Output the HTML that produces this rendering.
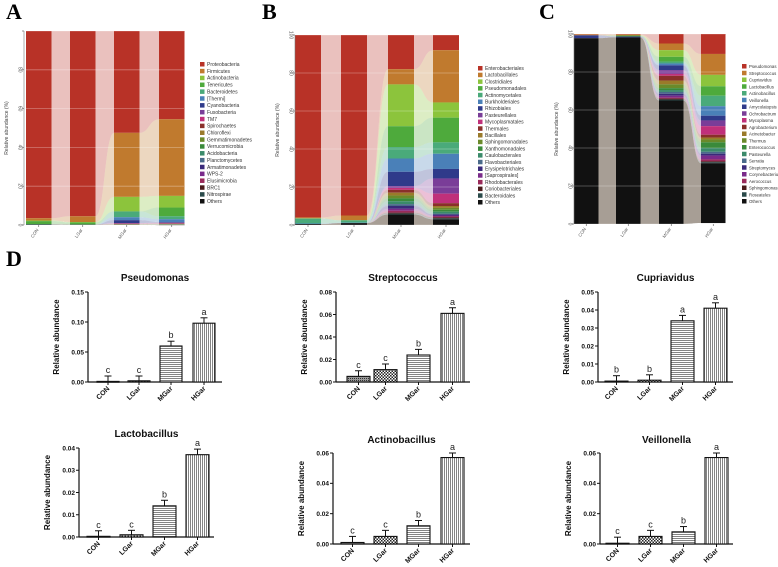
<!DOCTYPE html>
<html><head><meta charset="utf-8"><style>
html,body{margin:0;padding:0;background:#fff}
svg{display:block;font-family:"Liberation Sans",sans-serif}
</style></head><body>
<svg id="fig" width="778" height="567" viewBox="0 0 778 567">
<defs>
<pattern id="pCON" width="2" height="2" patternUnits="userSpaceOnUse"><rect width="2" height="2" fill="#999"/><rect width="1" height="1" fill="#333"/></pattern>
<pattern id="pLGar" width="3" height="3" patternUnits="userSpaceOnUse"><rect width="3" height="3" fill="#fff"/><rect width="1.5" height="1.5" fill="#222"/><rect x="1.5" y="1.5" width="1.5" height="1.5" fill="#222"/></pattern>
<pattern id="pMGar" width="4" height="2" patternUnits="userSpaceOnUse"><rect width="4" height="2" fill="#fff"/><rect width="4" height="0.8" fill="#666"/></pattern>
<pattern id="pHGar" width="2" height="4" patternUnits="userSpaceOnUse"><rect width="2" height="4" fill="#fff"/><rect width="0.8" height="4" fill="#666"/></pattern>
</defs>
<text x="6" y="19" font-family="Liberation Serif,serif" font-weight="bold" font-size="22">A</text>
<text x="262" y="19" font-family="Liberation Serif,serif" font-weight="bold" font-size="22">B</text>
<text x="539" y="19" font-family="Liberation Serif,serif" font-weight="bold" font-size="22">C</text>
<text x="6" y="266" font-family="Liberation Serif,serif" font-weight="bold" font-size="22">D</text>
</svg>
<script>
const NS="http://www.w3.org/2000/svg";
const svg=document.getElementById('fig');
const groups=["CON","LGar","MGar","HGar"];
const palette=["#b83227","#c07a2e","#8cc43c","#4eaa3c","#4aaa7a","#4a80b8","#2f3a8a","#7a3d98","#c0307a","#8a2f2a","#9a7a2a","#6a8a2a","#3a8a3a","#3a8a6a","#4a6a8a","#3a2a7a","#7a2a8a","#9a2a5a","#4a1a1a","#2a4a4a","#111111"];

// Panel A data (percent, listed top to bottom)
const taxaA=["Proteobacteria","Firmicutes","Actinobacteria","Tenericutes","Bacteroidetes","[Thermi]","Cyanobacteria","Fusobacteria","TM7","Spirochaetes","Chloroflexi","Gemmatimonadetes","Verrucomicrobia","Acidobacteria","Planctomycetes","Armatimonadetes","WPS-2","Elusimicrobia","BRC1","Nitrospirae","Others"];
const valsA=[[96.5,95.5,52.5,45.5],[1.2,3,33,39.5],[0.3,0.2,7.5,6],[1.5,1,0,4.5],[0.2,0.1,3,1.5],[0,0,1.5,1.5],[0,0,1.5,0.3],[0,0,0.2,0.3],[0,0,0.2,0.2],[0,0,0.2,0.2],[0,0,0.1,0.1],[0,0,0.1,0.1],[0,0,0.1,0.1],[0,0,0,0.1],[0,0,0,0],[0,0,0,0],[0,0,0,0],[0,0,0,0],[0,0,0,0],[0,0,0,0],[0.3,0.2,0.1,0.2]];
// Panel B data
const taxaB=["Enterobacteriales","Lactobacillales","Clostridiales","Pseudomonadales","Actinomycetales","Burkholderiales","Rhizobiales","Pasteurellales","Mycoplasmatales","Thermales","Bacillales","Sphingomonadales","Xanthomonadales","Caulobacterales","Flavobacteriales","Erysipelotrichales","[Saprospirales]","Rhodobacterales","Coriobacteriales","Bacteroidales","Others"];
const valsB=[[96,95,18,8],[0.5,2.5,8,27.5],[0,0,22,8],[0.2,0.1,11,13],[2.5,1.2,6,6],[0.3,0.2,7,8],[0,0,7.5,5],[0,0,1,8],[0,0,1,5],[0,0,1.5,1.5],[0,0,1.5,1],[0,0,1.5,1],[0,0,1.5,1],[0,0,1.5,1],[0,0,1,0.5],[0,0,1.5,0.5],[0,0,1,0.5],[0,0,1,0.5],[0,0,0.5,0.5],[0,0,0.5,0.5],[0.5,1,5.5,3]];
// Panel C data
const taxaC=["Pseudomonas","Streptococcus","Cupriavidus","Lactobacillus","Actinobacillus","Veillonella","Amycolatopsis","Ochrobactrum","Mycoplasma","Agrobacterium","Acinetobacter","Thermus","Enterococcus","Pasteurella","Serratia","Streptomyces","Corynebacterium","Aerococcus","Sphingomonas","Roseateles","Others"];
const valsC=[[0.2,0.3,5,10.5],[0.5,0.5,3.5,11],[0,0,3.5,6],[0,0.5,2.5,5],[0,0,1,5.5],[0,0,1,5],[1.5,0.5,2.5,2.5],[0,0,2,3],[0,0,1,4.5],[0,0,2.5,1.5],[0,0,2,1],[0,0,2,1.5],[0,0,1,3],[0,0,1,2],[0,0,1,1],[0,0,1,1],[0,0,1,2],[0,0,0.5,1],[0,0,0.5,0.5],[0,0,0.5,0.5],[97.8,98.2,65,31.5]];

function el(tag,attrs,parent){const e=document.createElementNS(NS,tag);for(const k in attrs)e.setAttribute(k,attrs[k]);(parent||svg).appendChild(e);return e;}

function stackPanel(cfg,taxa,vals,pname){
  const g=el('g',{});
  
  
  const y=v=>cfg.y0-(v/100)*(cfg.y0-cfg.y100);
  const tops=[],bots=[];
  for(let s=0;s<4;s++){let acc=100;for(let t=0;t<taxa.length;t++){if(!tops[t]){tops[t]=[];bots[t]=[];}tops[t][s]=acc;acc-=vals[t][s];bots[t][s]=acc;}}
  for(let t=0;t<taxa.length;t++){
    const last=t===taxa.length-1;
    for(let s=0;s<3;s++){
      const x1=cfg.bars[s]+cfg.bw,x2=cfg.bars[s+1],xm=(x1+x2)/2;
      const a1=y(tops[t][s]),a2=y(tops[t][s+1]),b1=y(bots[t][s]),b2=y(bots[t][s+1]);
      const p=el('path',{d:`M${x1},${a1} C${xm},${a1} ${xm},${a2} ${x2},${a2} L${x2},${b2} C${xm},${b2} ${xm},${b1} ${x1},${b1} Z`,fill:last?'#8a7d72':palette[t],'fill-opacity':last?0.75:0.3},g);
      
      
    }
  }
  for(let t=0;t<taxa.length;t++){
    for(let s=0;s<4;s++){
      if(vals[t][s]<=0)continue;
      const r=el('rect',{x:cfg.bars[s],y:y(tops[t][s]),width:cfg.bw,height:y(bots[t][s])-y(tops[t][s]),fill:palette[t]},g);
      
      
    }
  }
  for(const v of [0,20,40,60,80,100]){
    el('line',{x1:cfg.x0,x2:cfg.x1,y1:y(v),y2:y(v),stroke:'#fff','stroke-opacity':0.35,'stroke-width':0.8},g);
    el('line',{x1:cfg.x0-2,x2:cfg.x0,y1:y(v),y2:y(v),stroke:'#555','stroke-width':0.6},g);
    if(v===100&&cfg.noTop)continue;
    const tx=el('text',{x:cfg.x0-4,y:y(v),'font-size':5,fill:'#555','text-anchor':'middle',transform:`rotate(90 ${cfg.x0-4} ${y(v)})`,'dominant-baseline':'middle'},g);
    tx.textContent=v;
    
    
  }
  el('line',{x1:cfg.x0,x2:cfg.x0,y1:cfg.y100,y2:cfg.y0,stroke:'#777','stroke-width':0.6},g);
  const yl=el('text',{x:cfg.x0-16,y:(cfg.y0+cfg.y100)/2,'font-size':5,fill:'#444','text-anchor':'middle',transform:`rotate(-90 ${cfg.x0-16} ${(cfg.y0+cfg.y100)/2})`},g);
  yl.textContent='Relative abundance (%)';
  
  
  for(let s=0;s<4;s++){
    const cx=cfg.bars[s]+cfg.bw/2;
    el('line',{x1:cx,x2:cx,y1:cfg.y0,y2:cfg.y0+2,stroke:'#555','stroke-width':0.6},g);
    const tx=el('text',{x:cx,y:cfg.y0+5,'font-size':4.5,fill:'#555','text-anchor':'end',transform:`rotate(-55 ${cx} ${cfg.y0+5})`},g);
    tx.textContent=groups[s];
    
    
  }
  for(let t=0;t<taxa.length;t++){
    const ly=cfg.ly+t*cfg.ls;
    const r=el('rect',{x:cfg.lx,y:ly,width:4.5,height:4.5,fill:palette[t]},g);
    
    
    const tx=el('text',{x:cfg.lx+7,y:ly+4,'font-size':cfg.lf,fill:'#333'},g);
    tx.textContent=taxa[t];
    
    
  }
}
stackPanel({x0:24,x1:184,y0:225,y100:31,bars:[26,70,114,159],bw:25.5,lx:200,ly:62,ls:6.85,noTop:true,lf:5},taxaA,valsA,'panel-a');
stackPanel({x0:295,x1:459,y0:225,y100:35,bars:[295,341,388,433],bw:26,lx:478,ly:66,ls:6.7,lf:5},taxaB,valsB,'panel-b');
stackPanel({x0:574,x1:725,y0:224,y100:34,bars:[574,616,659,701],bw:24.5,lx:742,ly:64,ls:6.75,lf:4.3},taxaC,valsC,'panel-c');

// Panel D bar charts
const dTitles=["Pseudomonas","Streptococcus","Cupriavidus","Lactobacillus","Actinobacillus","Veillonella"];
const dMeans=[[0.001,0.002,0.060,0.098],[0.005,0.011,0.024,0.061],[0.0005,0.001,0.034,0.041],[0.0003,0.001,0.014,0.037],[0.001,0.005,0.012,0.057],[0.0005,0.005,0.008,0.057]];
const dErrs=[[0.009,0.008,0.008,0.009],[0.005,0.005,0.005,0.005],[0.003,0.003,0.003,0.003],[0.0025,0.002,0.0025,0.0025],[0.004,0.004,0.0035,0.003],[0.004,0.004,0.0035,0.003]];
const dLetters=[["c","c","b","a"],["c","c","b","a"],["b","b","a","a"],["c","c","b","a"],["c","c","b","a"],["c","c","b","a"]];
const dTicks=[["0.00","0.05","0.10","0.15"],["0.00","0.02","0.04","0.06","0.08"],["0.00","0.01","0.02","0.03","0.04","0.05"],["0.00","0.01","0.02","0.03","0.04"],["0.00","0.02","0.04","0.06"],["0.00","0.02","0.04","0.06"]];
const layouts=[
 {ax:88,y0:382,yt:292,xe:222,bars:[97,128,160,193],bw:22,ty:281},
 {ax:336,y0:382,yt:292,xe:470,bars:[347,374,407,441],bw:23,ty:281},
 {ax:598,y0:382,yt:292,xe:733,bars:[605,638,671,704],bw:23,ty:281},
 {ax:79,y0:537,yt:448,xe:214,bars:[87,120,153,186],bw:23,ty:437},
 {ax:333,y0:544,yt:453,xe:470,bars:[341,374,407,441],bw:23,ty:443},
 {ax:600,y0:544,yt:453,xe:733,bars:[606,639,672,705],bw:23,ty:443}];
for(let i=0;i<6;i++){
  const L=layouts[i];
  const ticks=dTicks[i];const max=parseFloat(ticks[ticks.length-1]);
  const y=v=>L.y0-(v/max)*(L.y0-L.yt);
  const g=el('g',{});
  
  
  const cx0=(L.ax+L.xe)/2;
  const ti=el('text',{x:cx0,y:L.ty,'font-size':10,'font-weight':'bold','text-anchor':'middle',fill:'#111'},g);
  ti.textContent=dTitles[i];
  
  
  const ym=(L.y0+L.yt)/2;
  const yl=el('text',{x:L.ax-29,y:ym,'font-size':8,'font-weight':'bold','text-anchor':'middle',fill:'#111',transform:`rotate(-90 ${L.ax-29} ${ym})`},g);
  yl.textContent='Relative abundance';
  
  
  for(const t of ticks){
    const v=parseFloat(t);
    el('line',{x1:L.ax-3,x2:L.ax,y1:y(v),y2:y(v),stroke:'#111','stroke-width':1},g);
    const tx=el('text',{x:L.ax-4,y:y(v)+2.3,'font-size':6.5,'font-weight':'bold','text-anchor':'end',fill:'#111'},g);
    tx.textContent=t;
    
    
  }
  el('line',{x1:L.ax,x2:L.ax,y1:L.yt,y2:L.y0,stroke:'#111','stroke-width':1.2},g);
  el('line',{x1:L.ax,x2:L.xe,y1:L.y0,y2:L.y0,stroke:'#111','stroke-width':1.2},g);
  for(let s=0;s<4;s++){
    const m=dMeans[i][s],e=dErrs[i][s];
    const x=L.bars[s],cx=x+L.bw/2;
    const r=el('rect',{x:x,y:y(m),width:L.bw,height:Math.max(L.y0-y(m),0.8),fill:`url(#p${groups[s]})`,stroke:'#111','stroke-width':1.1},g);
    
    
    const et=y(m+e);
    el('line',{x1:cx,x2:cx,y1:y(m),y2:et,stroke:'#111','stroke-width':1},g);
    el('line',{x1:cx-3.5,x2:cx+3.5,y1:et,y2:et,stroke:'#111','stroke-width':1},g);
    el('line',{x1:cx,x2:cx,y1:L.y0,y2:L.y0+3,stroke:'#111','stroke-width':1},g);
    const lt=el('text',{x:cx,y:et-3,'font-size':9,'text-anchor':'middle',fill:'#222'},g);
    lt.textContent=dLetters[i][s];
    
    
    const xl=el('text',{x:cx+2,y:L.y0+7,'font-size':7,'font-weight':'bold','text-anchor':'end',fill:'#111',transform:`rotate(-45 ${cx+2} ${L.y0+7})`},g);
    xl.textContent=groups[s];
    
    
  }
}
</script>
</body></html>
